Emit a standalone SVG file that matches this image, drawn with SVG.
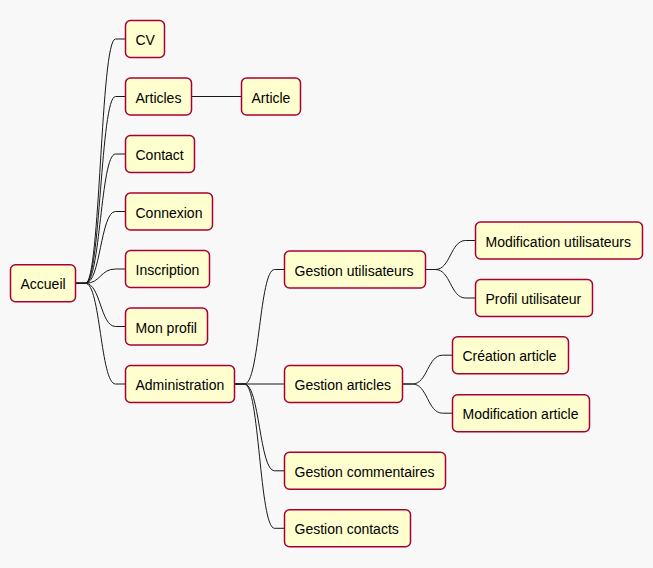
<svg xmlns="http://www.w3.org/2000/svg" width="653" height="568" viewBox="0 0 653 568">
<style>
.n rect{fill:#FEFECE;stroke:#A80036;stroke-width:1.5}
.n text{font-family:"Liberation Sans",Arial,sans-serif;font-size:14px;fill:#000}
#links path{fill:none;stroke:#181818;stroke-width:1}
</style>
<rect x="0" y="0" width="653" height="568" fill="#F8F8F8"/>
<g id="links">
<path d="M75.5,283.3 L85.5,283.3 C100.5,283.3 100.5,39 115.5,39 L125.5,39"/>
<path d="M75.5,283.3 L85.5,283.3 C100.5,283.3 100.5,96.5 115.5,96.5 L125.5,96.5"/>
<path d="M75.5,283.3 L85.5,283.3 C100.5,283.3 100.5,154 115.5,154 L125.5,154"/>
<path d="M75.5,283.3 L85.5,283.3 C100.5,283.3 100.5,211.5 115.5,211.5 L125.5,211.5"/>
<path d="M75.5,283.3 L85.5,283.3 C100.5,283.3 100.5,269 115.5,269 L125.5,269"/>
<path d="M75.5,283.3 L85.5,283.3 C100.5,283.3 100.5,326.5 115.5,326.5 L125.5,326.5"/>
<path d="M75.5,283.3 L85.5,283.3 C100.5,283.3 100.5,384 115.5,384 L125.5,384"/>
<path d="M191.5,96.5 L241.5,96.5"/>
<path d="M234.5,384 L244.5,384 C259.5,384 259.5,269.5 274.5,269.5 L284.5,269.5"/>
<path d="M234.5,384 L284.5,384"/>
<path d="M234.5,384 L244.5,384 C259.5,384 259.5,470.8 274.5,470.8 L284.5,470.8"/>
<path d="M234.5,384 L244.5,384 C259.5,384 259.5,528.3 274.5,528.3 L284.5,528.3"/>
<path d="M425.5,269.5 L435.5,269.5 C450.5,269.5 450.5,240.5 465.5,240.5 L475.5,240.5"/>
<path d="M425.5,269.5 L435.5,269.5 C450.5,269.5 450.5,298 465.5,298 L475.5,298"/>
<path d="M402.5,384 L412.5,384 C427.5,384 427.5,355.2 442.5,355.2 L452.5,355.2"/>
<path d="M402.5,384 L412.5,384 C427.5,384 427.5,413.2 442.5,413.2 L452.5,413.2"/>
</g>
<g id="accueil" class="n"><rect x="10.5" y="264.8" width="65" height="37" rx="5"/><text x="20.5" y="289.3">Accueil</text></g>
<g id="cv" class="n"><rect x="125.5" y="20.5" width="39" height="37" rx="5"/><text x="135.5" y="45">CV</text></g>
<g id="articles" class="n"><rect x="125.5" y="78" width="66" height="37" rx="5"/><text x="135.5" y="102.5">Articles</text></g>
<g id="article" class="n"><rect x="241.5" y="78" width="59" height="37" rx="5"/><text x="251.5" y="102.5">Article</text></g>
<g id="contact" class="n"><rect x="125.5" y="135.5" width="69" height="37" rx="5"/><text x="135.5" y="160">Contact</text></g>
<g id="connexion" class="n"><rect x="125.5" y="193" width="87" height="37" rx="5"/><text x="135.5" y="217.5">Connexion</text></g>
<g id="inscription" class="n"><rect x="125.5" y="250.5" width="84" height="37" rx="5"/><text x="135.5" y="275">Inscription</text></g>
<g id="monprofil" class="n"><rect x="125.5" y="308" width="82" height="37" rx="5"/><text x="135.5" y="332.5">Mon profil</text></g>
<g id="administration" class="n"><rect x="125.5" y="365.5" width="109" height="37" rx="5"/><text x="135.5" y="390">Administration</text></g>
<g id="gestionutilisateurs" class="n"><rect x="284.5" y="251" width="141" height="37" rx="5"/><text x="294.5" y="275.5">Gestion utilisateurs</text></g>
<g id="modifutilisateurs" class="n"><rect x="475.5" y="222" width="167" height="37" rx="5"/><text x="485.5" y="246.5">Modification utilisateurs</text></g>
<g id="profilutilisateur" class="n"><rect x="475.5" y="279.5" width="117" height="37" rx="5"/><text x="485.5" y="304">Profil utilisateur</text></g>
<g id="gestionarticles" class="n"><rect x="284.5" y="365.5" width="118" height="37" rx="5"/><text x="294.5" y="390">Gestion articles</text></g>
<g id="creationarticle" class="n"><rect x="452.5" y="336.7" width="116" height="37" rx="5"/><text x="462.5" y="361.2">Création article</text></g>
<g id="modifarticle" class="n"><rect x="452.5" y="394.7" width="137" height="37" rx="5"/><text x="462.5" y="419.2">Modification article</text></g>
<g id="gestioncommentaires" class="n"><rect x="284.5" y="452.3" width="161" height="37" rx="5"/><text x="294.5" y="476.8">Gestion commentaires</text></g>
<g id="gestioncontacts" class="n"><rect x="284.5" y="509.8" width="126" height="37" rx="5"/><text x="294.5" y="534.3">Gestion contacts</text></g>
</svg>
